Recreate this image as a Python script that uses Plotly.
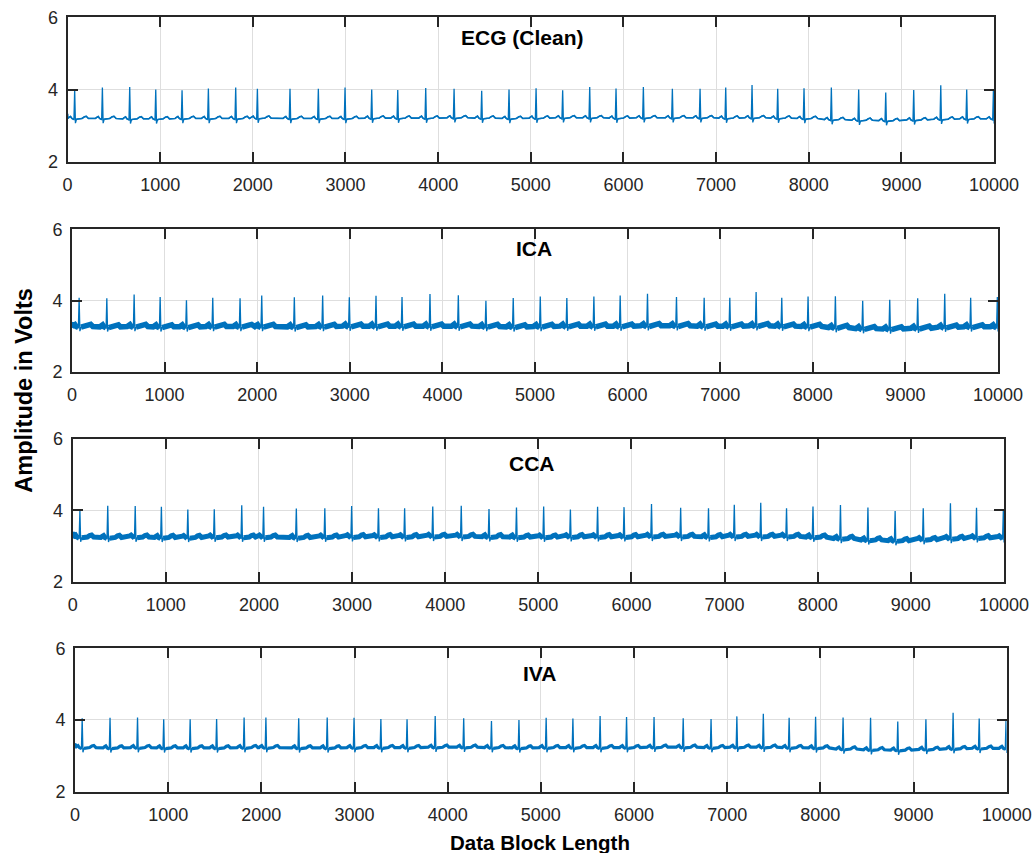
import plotly.graph_objects as go

# ---------------- data ----------------
r_pos = [77, 376, 671, 952, 1236, 1520, 1815, 2049, 2401, 2707, 2995, 3283, 3564, 3866,
         4172, 4470, 4765, 5057, 5344, 5636, 5920, 6215, 6528, 6827, 7104, 7388, 7665,
         7949, 8244, 8539, 8831, 9133, 9425, 9705, 9993]

clean_r = [4.00, 4.055, 4.07, 4.00, 3.98, 4.03, 4.055, 4.02, 4.02, 4.02, 4.055, 4.00, 3.99,
           4.045, 4.02, 3.97, 4.00, 4.035, 3.98, 4.07, 4.03, 4.07, 4.02, 4.02, 4.055, 4.13,
           4.02, 4.04, 4.06, 4.00, 3.92, 3.99, 4.12, 4.00, 3.96]
ica_r = [4.08, 4.06, 4.17, 4.10, 4.01, 4.08, 4.06, 4.14, 4.09, 4.14, 4.09, 4.13, 4.10, 4.18,
         4.15, 3.99, 4.07, 4.11, 4.07, 4.11, 4.14, 4.19, 4.10, 4.08, 4.08, 4.24, 4.08, 4.11,
         4.12, 3.99, 4.02, 4.06, 4.19, 4.08, 4.10]
cca_r = [4.00, 4.13, 4.12, 4.10, 4.02, 4.03, 4.14, 4.10, 4.05, 4.06, 4.12, 4.06, 4.06, 4.11,
         4.13, 4.04, 4.08, 4.11, 4.02, 4.10, 4.09, 4.18, 4.07, 4.06, 4.16, 4.21, 4.06, 4.11,
         4.15, 4.08, 3.98, 4.06, 4.20, 4.07, 4.00]
iva_r = [4.05, 4.06, 4.07, 4.02, 4.02, 4.03, 4.07, 4.07, 4.05, 4.07, 4.06, 4.03, 4.02, 4.11,
         4.05, 3.97, 4.00, 4.06, 4.04, 4.11, 4.08, 4.08, 4.05, 4.03, 4.10, 4.17, 4.06, 4.09,
         4.07, 4.06, 3.96, 4.02, 4.20, 4.04, 4.00]

clean_base = [3.20, 3.20, 3.19, 3.19, 3.20, 3.20, 3.20, 3.21, 3.20, 3.20, 3.20, 3.21, 3.21,
              3.21, 3.22, 3.21, 3.20, 3.21, 3.22, 3.22, 3.21, 3.22, 3.22, 3.22, 3.21, 3.22,
              3.21, 3.20, 3.17, 3.15, 3.14, 3.16, 3.18, 3.19, 3.19]
ica_base = [3.27, 3.26, 3.27, 3.26, 3.26, 3.27, 3.27, 3.27, 3.26, 3.27, 3.28, 3.28, 3.28,
            3.28, 3.28, 3.27, 3.26, 3.27, 3.28, 3.28, 3.28, 3.29, 3.29, 3.28, 3.28, 3.29,
            3.28, 3.27, 3.24, 3.21, 3.20, 3.22, 3.25, 3.26, 3.26]
cca_base = [3.25, 3.24, 3.25, 3.24, 3.24, 3.25, 3.25, 3.25, 3.24, 3.25, 3.26, 3.26, 3.26,
            3.27, 3.27, 3.26, 3.25, 3.25, 3.26, 3.26, 3.26, 3.27, 3.27, 3.26, 3.27, 3.27,
            3.27, 3.25, 3.21, 3.17, 3.15, 3.18, 3.21, 3.23, 3.23]
iva_base = [3.23, 3.22, 3.23, 3.22, 3.22, 3.22, 3.23, 3.23, 3.22, 3.22, 3.23, 3.23, 3.23,
            3.24, 3.24, 3.23, 3.22, 3.23, 3.23, 3.23, 3.23, 3.24, 3.24, 3.23, 3.24, 3.24,
            3.23, 3.22, 3.19, 3.17, 3.16, 3.18, 3.20, 3.21, 3.21]

start_vals = [3.33, 3.40, 3.40, 3.35]
titles = ["ECG (Clean)", "ICA", "CCA", "IVA"]
x_ticks = [0, 1000, 2000, 3000, 4000, 5000, 6000, 7000, 8000, 9000, 10000]
x_tick_text = ["0", "1000", "2000", "3000", "4000", "5000", "6000", "7000", "8000", "9000", "10000"]
y_ticks = [2, 4, 6]
y_tick_text = ["2", "4", "6"]

# beat waveform shape (sample offset from R peak, level relative to baseline)
pre_shape = [(-75, 0.0), (-58, 0.035), (-45, 0.055), (-30, 0.0), (-8, -0.03)]
post_shape = [(8, -0.13), (20, -0.02), (80, 0.0), (105, 0.045), (125, 0.06), (148, 0.0)]

panels = [(clean_r, clean_base), (ica_r, ica_base), (cca_r, cca_base), (iva_r, iva_base)]
band_w = [1.6, 5.5, 5.0, 3.2]

xdom = [(0.0652, 0.9595), (0.0695, 0.9633), (0.0702, 0.9691), (0.0724, 0.9717)]
ydom = [(0.8104, 0.9795), (0.5642, 0.7312), (0.3181, 0.4853), (0.0719, 0.2400)]
title_pos = [(0.5043, 0.9566), (0.515, 0.7081), (0.5135, 0.4564), (0.5212, 0.2102)]

color = "#0072BD"
axcol = "#262626"
font = "Liberation Sans, Arial, Helvetica, sans-serif"

fig = go.Figure()

for k, (rv, bv) in enumerate(panels):
    xs, ys = [0], [start_vals[k]]
    bx, by = [0], [start_vals[k]]
    for i, p in enumerate(r_pos):
        b = bv[i]
        for o, d in pre_shape:
            xs.append(p + o); ys.append(b + d)
            bx.append(p + o); by.append(b + d)
        xs.append(p); ys.append(rv[i])
        bx.append(None); by.append(None)
        for o, d in post_shape:
            xs.append(p + o); ys.append(b + d)
            if o >= 20:
                bx.append(p + o); by.append(b + d)
    ax = "" if k == 0 else str(k + 1)
    fig.add_trace(go.Scatter(x=bx, y=by, mode="lines", xaxis="x" + ax, yaxis="y" + ax,
                             line=dict(color=color, width=band_w[k]), connectgaps=False,
                             hoverinfo="skip", showlegend=False))
    fig.add_trace(go.Scatter(x=xs, y=ys, mode="lines", xaxis="x" + ax, yaxis="y" + ax,
                             line=dict(color=color, width=1.3), showlegend=False))

layout = dict(width=1036, height=853, margin=dict(l=0, r=0, t=0, b=0),
              paper_bgcolor="white", plot_bgcolor="white", template="none",
              font=dict(family=font, size=18, color=axcol), showlegend=False)
for k in range(4):
    ax = "" if k == 0 else str(k + 1)
    layout["xaxis" + ax] = dict(domain=list(xdom[k]), anchor="y" + ax, range=[0, 10000],
                                tickmode="array", tickvals=x_ticks, ticktext=x_tick_text,
                                ticks="inside", ticklen=10, tickwidth=2.2, automargin=False,
                                tickcolor=axcol, showline=True, linecolor=axcol, linewidth=2,
                                mirror="ticks", showgrid=True, gridcolor="#dedede", gridwidth=1,
                                zeroline=False, tickfont=dict(size=18, color=axcol, family=font),
                                ticklabelstandoff=6, layer="above traces")
    layout["yaxis" + ax] = dict(domain=list(ydom[k]), anchor="x" + ax, range=[2, 6],
                                tickmode="array", tickvals=y_ticks, ticktext=y_tick_text,
                                ticks="inside", ticklen=10, tickwidth=2.2, automargin=False,
                                tickcolor=axcol, showline=True, linecolor=axcol, linewidth=2,
                                mirror="ticks", showgrid=True, gridcolor="#dedede", gridwidth=1,
                                zeroline=False, tickfont=dict(size=18, color=axcol, family=font),
                                ticklabelstandoff=4, layer="above traces")

ann = []
for k in range(4):
    ann.append(dict(text="<b>" + titles[k] + "</b>", x=title_pos[k][0], y=title_pos[k][1],
                    xref="paper", yref="paper", xanchor="center", yanchor="middle",
                    showarrow=False, font=dict(size=21, color="black", family=font)))
ann.append(dict(text="<b>Amplitude in Volts</b>", x=0.0232, y=0.542, xref="paper", yref="paper",
                xanchor="center", yanchor="middle", textangle=-90, showarrow=False,
                font=dict(size=23.5, color="black", family=font)))
ann.append(dict(text="<b>Data Block Length</b>", x=0.5217, y=0.0125, xref="paper", yref="paper",
                xanchor="center", yanchor="middle", showarrow=False,
                font=dict(size=20.5, color="black", family=font)))
layout["annotations"] = ann

fig.update_layout(**layout)
fig.write_html("out.html")
